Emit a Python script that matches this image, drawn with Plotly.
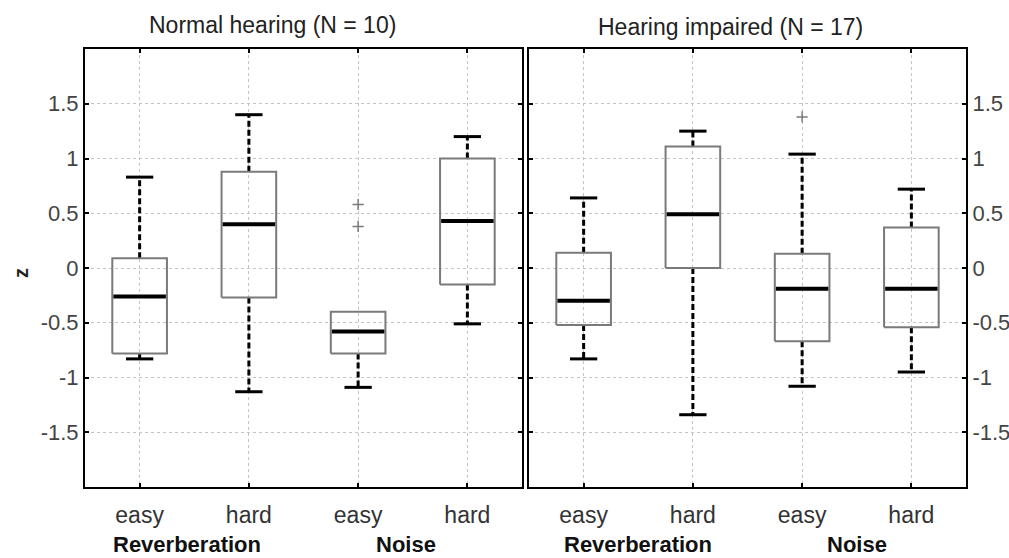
import plotly.graph_objects as go

# ---------------- data ----------------
categories = ["easy", "hard", "easy", "hard"]
group_labels = ["Reverberation", "Noise"]
panel_titles = ["Normal hearing (N = 10)", "Hearing impaired (N = 17)"]
y_ticks = [-1.5, -1, -0.5, 0, 0.5, 1, 1.5]
y_ticktext = ["-1.5", "-1", "-0.5", "0", "0.5", "1", "1.5"]

nh_upper = [0.83, 1.40, -0.40, 1.20]
nh_q3 = [0.09, 0.88, -0.40, 1.00]
nh_median = [-0.26, 0.40, -0.58, 0.43]
nh_q1 = [-0.78, -0.27, -0.78, -0.15]
nh_lower = [-0.83, -1.13, -1.09, -0.51]
nh_outliers = [[], [], [0.58, 0.38], []]

hi_upper = [0.64, 1.25, 1.04, 0.72]
hi_q3 = [0.14, 1.11, 0.13, 0.37]
hi_median = [-0.30, 0.49, -0.19, -0.19]
hi_q1 = [-0.52, 0.00, -0.67, -0.54]
hi_lower = [-0.83, -1.34, -1.08, -0.95]
hi_outliers = [[], [], [1.38], []]

panels = [
    (nh_upper, nh_q3, nh_median, nh_q1, nh_lower, nh_outliers),
    (hi_upper, hi_q3, hi_median, hi_q1, hi_lower, hi_outliers),
]

# ---------------- styling ----------------
FONT = "Liberation Sans, Arial, sans-serif"
BOX_W = 0.5
CAP_W = 0.25
GRAY = "#7a7a7a"

fig = go.Figure()

for p, (up, q3, med, q1, lo, outl) in enumerate(panels):
    xa = "x" if p == 0 else "x2"
    ya = "y" if p == 0 else "y2"
    wx, wy, cx, cy, bx, by, mx, my, ox, oy = [], [], [], [], [], [], [], [], [], []
    for i in range(len(categories)):
        c = i + 1
        # whiskers
        if up[i] > q3[i]:
            wx += [c, c, None]; wy += [q3[i], up[i], None]
            cx += [c - CAP_W / 2, c + CAP_W / 2, None]; cy += [up[i], up[i], None]
        if lo[i] < q1[i]:
            wx += [c, c, None]; wy += [q1[i], lo[i], None]
        cx += [c - CAP_W / 2, c + CAP_W / 2, None]; cy += [lo[i], lo[i], None]
        # box
        bx += [c - BOX_W / 2, c + BOX_W / 2, c + BOX_W / 2, c - BOX_W / 2, c - BOX_W / 2, None]
        by += [q1[i], q1[i], q3[i], q3[i], q1[i], None]
        # median
        mx += [c - BOX_W / 2 + 0.01, c + BOX_W / 2 - 0.01, None]; my += [med[i], med[i], None]
        for v in outl[i]:
            ox.append(c); oy.append(v)
    fig.add_trace(go.Scatter(x=wx, y=wy, mode="lines", xaxis=xa, yaxis=ya,
                             line=dict(color="black", width=3, dash="6px,3px"),
                             showlegend=False, hoverinfo="skip"))
    fig.add_trace(go.Scatter(x=cx, y=cy, mode="lines", xaxis=xa, yaxis=ya,
                             line=dict(color="black", width=3),
                             showlegend=False, hoverinfo="skip"))
    fig.add_trace(go.Scatter(x=bx, y=by, mode="lines", xaxis=xa, yaxis=ya,
                             line=dict(color=GRAY, width=2),
                             showlegend=False, hoverinfo="skip"))
    fig.add_trace(go.Scatter(x=mx, y=my, mode="lines", xaxis=xa, yaxis=ya,
                             line=dict(color="black", width=4),
                             showlegend=False, hoverinfo="skip"))
    fig.add_trace(go.Scatter(x=ox, y=oy, mode="markers", xaxis=xa, yaxis=ya,
                             marker=dict(symbol="cross-thin", size=8,
                                         line=dict(color=GRAY, width=1.5)),
                             showlegend=False, hoverinfo="skip"))

common_x = dict(range=[0.5, 4.5], tickmode="array", tickvals=[1, 2, 3, 4],
                ticktext=categories, showgrid=True, gridcolor="#c4c4c4",
                griddash="dot", gridwidth=1, zeroline=False, showline=True,
                linecolor="black", linewidth=2, mirror="ticks", ticks="inside",
                ticklen=4, tickwidth=2, tickcolor="black",
                tickfont=dict(family=FONT, size=23, color="#333"),
                ticklabelstandoff=6)
common_y = dict(range=[-2, 2], tickmode="array", tickvals=y_ticks,
                ticktext=y_ticktext, showgrid=True, gridcolor="#c4c4c4",
                griddash="dot", gridwidth=1, zeroline=False, showline=True,
                linecolor="black", linewidth=2, mirror="ticks", ticks="inside",
                ticklen=4, tickwidth=2, tickcolor="black",
                tickfont=dict(family=FONT, size=22, color="#444"),
                ticklabelstandoff=0)

W, H = 1009, 558
fig.update_layout(
    width=W, height=H, margin=dict(l=0, r=0, t=0, b=0),
    paper_bgcolor="white", plot_bgcolor="white",
    xaxis=dict(domain=[85 / W, 522 / W], anchor="y", **common_x),
    yaxis=dict(domain=[71 / H, 509 / H], anchor="x", side="left", **common_y),
    xaxis2=dict(domain=[529 / W, 966 / W], anchor="y2", **common_x),
    yaxis2=dict(domain=[71 / H, 509 / H], anchor="x2", side="right", **common_y),
)

annotations = [
    dict(text=panel_titles[0], x=272 / W, y=(H - 25) / H, xref="paper", yref="paper",
         showarrow=False, font=dict(family=FONT, size=23, color="#222"),
         xanchor="center", yanchor="middle"),
    dict(text=panel_titles[1], x=730 / W, y=(H - 27) / H, xref="paper", yref="paper",
         showarrow=False, font=dict(family=FONT, size=23, color="#222"),
         xanchor="center", yanchor="middle"),
    dict(text="<b>z</b>", x=21 / W, y=(H - 273) / H, xref="paper", yref="paper",
         showarrow=False, textangle=-90, font=dict(family=FONT, size=20, color="#222"),
         xanchor="center", yanchor="middle"),
]
for p, xr in enumerate(["x", "x2"]):
    for g, name in enumerate(group_labels):
        annotations.append(dict(text="<b>" + name + "</b>", x=1.5 + 2 * g, y=(H - 544) / H,
                                xref=xr, yref="paper", showarrow=False,
                                xshift=-7 if p == 0 else 0,
                                font=dict(family=FONT, size=22, color="#111"),
                                xanchor="center", yanchor="middle"))
fig.update_layout(annotations=annotations)

fig.write_html("out.html", config={"displayModeBar": False},
               post_script="document.body.style.margin='0';document.body.style.padding='0';document.body.style.overflow='hidden';")
